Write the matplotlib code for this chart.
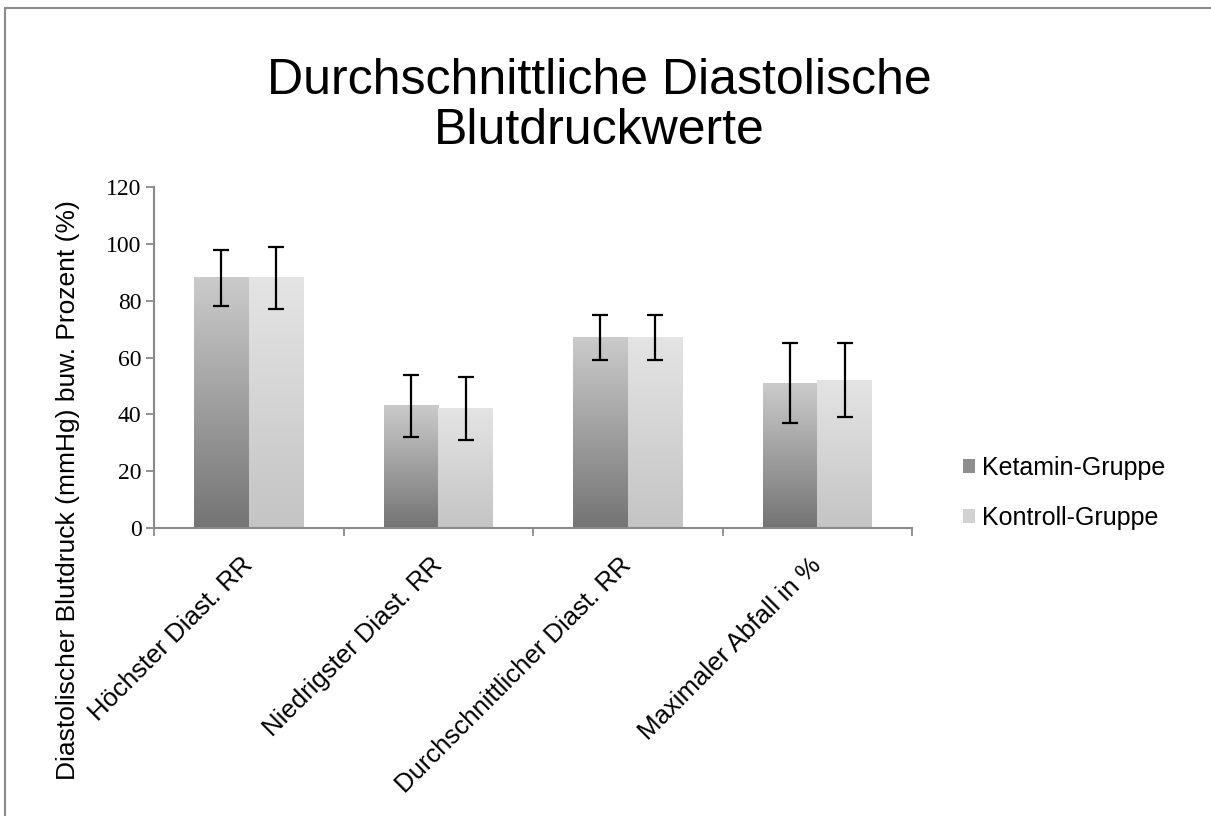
import matplotlib
matplotlib.use('Agg')
import matplotlib.pyplot as plt
from matplotlib.patches import Rectangle, Patch
from matplotlib.colors import LinearSegmentedColormap
import numpy as np

categories = ['Höchster Diast. RR', 'Niedrigster Diast. RR',
              'Durchschnittlicher Diast. RR', 'Maximaler Abfall in %']
ketamin = [88, 43, 67, 51]
ketamin_err = [10, 11, 8, 14]
kontroll = [88, 42, 67, 52]
kontroll_err = [11, 11, 8, 13]
series_names = ['Ketamin-Gruppe', 'Kontroll-Gruppe']
yticks = [0, 20, 40, 60, 80, 100, 120]

plt.rcParams['font.family'] = ['Liberation Sans', 'DejaVu Sans']

W, H = 1211, 816
fig = plt.figure(figsize=(W / 100, H / 100), dpi=100)
ax = fig.add_axes([154 / W, 1 - 528 / H, (912 - 154) / W, (528 - 187) / H])

# outer chart border (only top and left visible in the crop)
fig.patches.append(Rectangle((5 / W, -0.5), 2, 1.5 - 8 / H, transform=fig.transFigure,
                             fill=False, edgecolor='#8a8a8a', linewidth=1.5))


def gradient_bars(ax, bars, top, bottom):
    cmap = LinearSegmentedColormap.from_list('g', [bottom, top])
    grad = np.linspace(0, 1, 256).reshape(-1, 1)
    for b in bars:
        x0, y0 = b.get_x(), b.get_y()
        w, h = b.get_width(), b.get_height()
        ax.imshow(grad, cmap=cmap, origin='lower', aspect='auto',
                  extent=[x0, x0 + w, y0, y0 + h], zorder=2)
        b.set_visible(False)


x = np.arange(len(categories))
bw = 0.288
b1 = ax.bar(x - bw / 2, ketamin, bw)
b2 = ax.bar(x + bw / 2, kontroll, bw)
gradient_bars(ax, b1, '#cbcbcb', '#747474')
gradient_bars(ax, b2, '#e4e4e4', '#c4c4c4')

ax.errorbar(x - bw / 2, ketamin, yerr=ketamin_err, fmt='none', ecolor='black',
            elinewidth=1.6, capsize=6, capthick=1.6, zorder=3)
ax.errorbar(x + bw / 2, kontroll, yerr=kontroll_err, fmt='none', ecolor='black',
            elinewidth=1.6, capsize=6, capthick=1.6, zorder=3)

ax.set_xlim(-0.5, len(categories) - 0.5)
ax.set_ylim(0, 120)
ax.set_yticks(yticks)
ax.set_yticklabels([str(v) for v in yticks], family='Liberation Serif', fontsize=17)

ax.set_xticks(np.arange(len(categories) + 1) - 0.5)
ax.set_xticklabels([])
ax.set_xticks(x, minor=True)
ax.set_xticklabels(categories, minor=True, rotation=45, ha='right', va='center',
                   rotation_mode='anchor', fontsize=18.5)
ax.tick_params(axis='x', which='minor', length=0, pad=24)
ax.tick_params(axis='both', which='major', direction='out', length=6,
               width=1.3, color='#8a8a8a')
ax.tick_params(axis='y', pad=3)

for s in ['top', 'right']:
    ax.spines[s].set_visible(False)
for s in ['left', 'bottom']:
    ax.spines[s].set_color('#8a8a8a')
    ax.spines[s].set_linewidth(1.5)

fig.text(599 / W, 1 - 106 / H, 'Durchschnittliche Diastolische\nBlutdruckwerte',
         ha='center', va='center', fontsize=36, linespacing=1.12)
fig.text(68 / W, 1 - 490 / H, 'Diastolischer Blutdruck (mmHg) buw. Prozent (%)',
         rotation=90, ha='center', va='center', fontsize=19)

handles = [Patch(facecolor='#8e8e8e'), Patch(facecolor='#d2d2d2')]
fig.legend(handles, series_names, loc='center left',
           bbox_to_anchor=(940 / W, 1 - 493 / H), frameon=False, fontsize=18,
           handlelength=0.5, handleheight=0.5, handletextpad=0.3, labelspacing=1.05)

fig.savefig('out.png', dpi=100)
